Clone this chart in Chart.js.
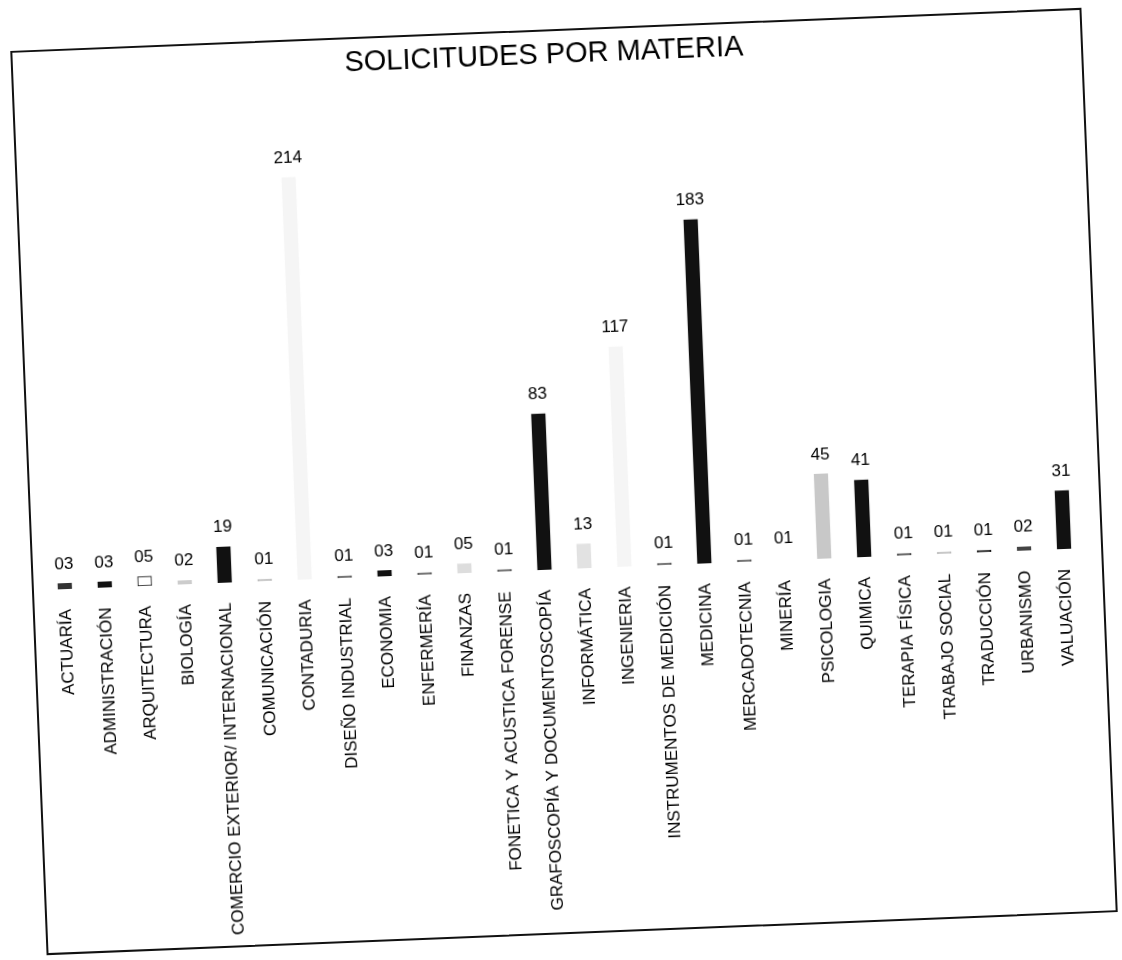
<!DOCTYPE html>
<html lang="es">
<head>
    <meta charset="UTF-8">
    <title>Solicitudes por materia</title>
    <style>
        body {
            margin: 0;
            background: #fff;
            font-family: "Liberation Sans", Arial, sans-serif;
        }

        /* el marco del grafico, un poco girado como en la hoja escaneada */
        .frame {
            position: absolute;
            left: 28px;
            top: 29px;
            width: 1072px;
            height: 905px;
            box-sizing: border-box;
            border: 2px solid #111;
            background: #fff;
            transform: rotate(-2.3deg);
        }

        .frame canvas {
            display: block;
        }
    </style>
</head>
<body>

<div class="frame">
    <canvas id="myChart" width="1068" height="901"></canvas>
</div>

<script src="https://cdn.jsdelivr.net/npm/chart.js"></script>
<script>
    const materias = [
        'ACTUARÍA', 'ADMINISTRACIÓN', 'ARQUITECTURA', 'BIOLOGÍA',
        'COMERCIO EXTERIOR/ INTERNACIONAL', 'COMUNICACIÓN', 'CONTADURIA',
        'DISEÑO INDUSTRIAL', 'ECONOMIA', 'ENFERMERÍA', 'FINANZAS',
        'FONETICA Y ACUSTICA FORENSE', 'GRAFOSCOPÍA Y DOCUMENTOSCOPÍA',
        'INFORMÁTICA', 'INGENIERIA', 'INSTRUMENTOS DE MEDICIÓN', 'MEDICINA',
        'MERCADOTECNIA', 'MINERÍA', 'PSICOLOGIA', 'QUIMICA', 'TERAPIA FÍSICA',
        'TRABAJO SOCIAL', 'TRADUCCIÓN', 'URBANISMO', 'VALUACIÓN'
    ];

    const solicitudes = [3, 3, 5, 2, 19, 1, 214, 1, 3, 1, 5, 1, 83, 13, 117, 1, 183, 1, 1, 45, 41, 1, 1, 1, 2, 31];

    // texto que aparece encima de cada barra
    const etiquetas = ['03', '03', '05', '02', '19', '01', '214', '01', '03', '01', '05', '01', '83',
        '13', '117', '01', '183', '01', '01', '45', '41', '01', '01', '01', '02', '31'];

    // colores segun se ven en la copia (negro, gris o casi blanco)
    const colores = ['#333', '#111', '#fff', '#ccc', '#111', '#bbb', '#f5f5f5', '#555', '#111', '#555',
        '#ddd', '#555', '#111', '#e2e2e2', '#f5f5f5', '#555', '#111', '#555', '#fff', '#c8c8c8',
        '#111', '#444', '#bbb', '#111', '#444', '#111'];

    const bordes = colores.map((c, i) => i === 2 ? '#111' : c);

    const etiquetasPlugin = {
        id: 'etiquetas',
        afterDatasetsDraw(chart) {
            const ctx = chart.ctx;
            const meta = chart.getDatasetMeta(0);
            ctx.save();
            ctx.fillStyle = '#000';
            ctx.font = '17px "Liberation Sans", Arial, sans-serif';
            ctx.textAlign = 'center';
            ctx.textBaseline = 'bottom';
            meta.data.forEach((bar, i) => {
                ctx.fillText(etiquetas[i], bar.x, bar.y - 11);
            });
            ctx.restore();
        }
    };

    const data = {
        labels: materias,
        datasets: [{
            data: solicitudes,
            backgroundColor: colores,
            borderColor: bordes,
            borderWidth: 1,
            borderSkipped: false,
            barThickness: 14
        }]
    };

    const config = {
        type: 'bar',
        data: data,
        options: {
            responsive: false,
            animation: false,
            layout: {
                padding: { left: 11, right: 17, top: 0, bottom: 0 }
            },
            plugins: {
                legend: { display: false },
                tooltip: { enabled: false },
                title: {
                    display: true,
                    text: 'SOLICITUDES POR MATERIA',
                    color: '#000',
                    font: { family: '"Liberation Sans", Arial, sans-serif', size: 29, weight: 'normal' },
                    padding: { top: 7, bottom: 26 }
                }
            },
            scales: {
                x: {
                    grid: { display: false },
                    border: { display: false },
                    ticks: {
                        color: '#000',
                        autoSkip: false,
                        minRotation: 90,
                        maxRotation: 90,
                        padding: 12,
                        font: { family: '"Liberation Sans", Arial, sans-serif', size: 17 }
                    },
                    afterFit: function (scale) {
                        scale.height = 363;
                    }
                },
                y: {
                    display: false,
                    min: 0,
                    max: 250
                }
            }
        },
        plugins: [etiquetasPlugin]
    };

    const myChart = new Chart(document.getElementById('myChart'), config);
</script>

</body>
</html>
